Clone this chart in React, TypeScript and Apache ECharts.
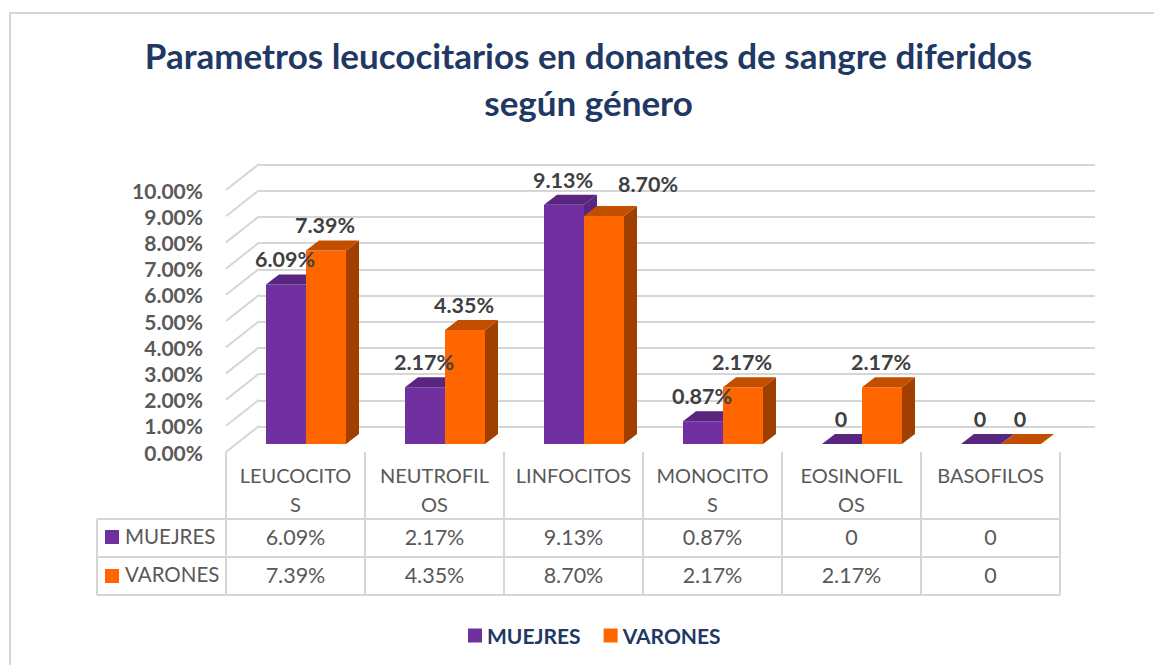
import React, { useEffect, useRef } from "react";
import * as echarts from "echarts";

const titleLines = ["Parametros leucocitarios en donantes de sangre diferidos", "según género"];
const categories = ["LEUCOCITOS", "NEUTROFILOS", "LINFOCITOS", "MONOCITOS", "EOSINOFILOS", "BASOFILOS"];
const categoryLabels = ["LEUCOCITO\nS", "NEUTROFIL\nOS", "LINFOCITOS", "MONOCITO\nS", "EOSINOFIL\nOS", "BASOFILOS"];
const muejres = [6.09, 2.17, 9.13, 0.87, 0, 0];
const varones = [7.39, 4.35, 8.7, 2.17, 2.17, 0];
const ticks = [0, 1, 2, 3, 4, 5, 6, 7, 8, 9, 10];

const FONT = "Lato";
const GRID = "#d6d6d6";
const TEXT = "#595959";
const fmt = (v: number) => (v === 0 ? "0" : v.toFixed(2) + "%");

// layout
const L = 226, R = 1060, T = 190, B = 452;
const COL = (R - L) / 6;
const TX = 97, ROW1 = 519, ROW2 = 557, ROW3 = 595;

function bar3d(seriesIdx: number, front: string, top: string, side: string) {
  return (params: any, api: any) => {
    const cat = api.value(0);
    const val = api.value(1);
    const base = api.coord([cat, 0]);
    const head = api.coord([cat, val]);
    const w = 40, dx = 13, dy = 10, lift = 8;
    const x0 = base[0] - COL / 2 + 40 + seriesIdx * w;
    const x1 = x0 + w;
    const yb = base[1] - lift;
    const yt = head[1] - lift;
    // the reference moved this one label clear of its neighbour
    const moved = seriesIdx === 1 && cat === 2;
    const layer = seriesIdx * 2;
    const children: any[] = [];
    if (val > 0) {
      children.push({ type: "polygon", z2: layer, shape: { points: [[x1, yb], [x1 + dx, yb - dy], [x1 + dx, yt - dy], [x1, yt]] }, style: { fill: side } });
      children.push({ type: "rect", z2: layer, shape: { x: x0, y: yt, width: w, height: yb - yt }, style: { fill: front } });
    }
    children.push({ type: "polygon", z2: layer, shape: { points: [[x0, yt], [x0 + dx, yt - dy], [x1 + dx, yt - dy], [x1, yt]] }, style: { fill: top } });
    children.push({
      type: "text",
      z2: 100,
      style: {
        x: x0 + w / 2 - 1 + (moved ? 45 : 0),
        y: yt - 25 - (moved ? 7 : 0),
        text: fmt(val),
        fill: "#404040",
        font: `bold 21.5px ${FONT}`,
        align: "center",
        verticalAlign: "middle",
      },
    });
    return { type: "group", children };
  };
}

export default function App() {
  const ref = useRef<HTMLDivElement>(null);
  useEffect(() => {
    const chart = echarts.init(ref.current!, undefined, { renderer: "svg" });
    const line = (x1: number, y1: number, x2: number, y2: number) => ({
      type: "line",
      shape: { x1, y1, x2, y2 },
      style: { stroke: GRID, lineWidth: 2 },
      z: 0,
    });
    const cellText = (x: number, y: number, text: string, size: number, align = "center") => ({
      type: "text",
      x,
      y,
      style: { text, fill: TEXT, font: `${size}px ${FONT}`, align, verticalAlign: "middle" },
    });
    const tableEls: any[] = [
      line(10, 13, 1154, 13),
      line(10, 12, 10, 665),
      line(TX, ROW1, R, ROW1),
      line(TX, ROW2, R, ROW2),
      line(TX, ROW3, R, ROW3),
      line(TX, ROW1, TX, ROW3),
    ];
    for (let i = 0; i <= 6; i++) tableEls.push(line(L + i * COL, B, L + i * COL, ROW3));
    categories.forEach((_, i) => {
      const cx = L + COL * (i + 0.5);
      tableEls.push(cellText(cx, (ROW1 + ROW2) / 2 - 1.5, fmt(muejres[i]), 21.5));
      tableEls.push(cellText(cx, (ROW2 + ROW3) / 2 - 1.5, fmt(varones[i]), 21.5));
    });
    tableEls.push({ type: "rect", shape: { x: 105, y: 530, width: 14, height: 14 }, style: { fill: "#7030a0" } });
    tableEls.push({ type: "rect", shape: { x: 105, y: 569, width: 14, height: 14 }, style: { fill: "#ff6600" } });
    tableEls.push(cellText(125, 536, "MUEJRES", 20.5, "left"));
    tableEls.push(cellText(125, 574, "VARONES", 20.5, "left"));

    chart.setOption({
      animation: false,
      backgroundColor: "#ffffff",
      title: {
        text: titleLines.join("\n"),
        left: 583.5,
        top: 26,
        textAlign: "center",
        textStyle: { fontFamily: FONT, fontWeight: "bold", fontSize: 35, color: "#1f3864", lineHeight: 47 },
      },
      legend: {
        data: ["MUEJRES", "VARONES"],
        left: 463,
        top: 620,
        icon: "rect",
        itemWidth: 14,
        itemHeight: 14,
        itemGap: 23,
        textStyle: { fontFamily: FONT, fontWeight: "bold", fontSize: 21, color: "#1f3864" },
      },
      grid: [
        { left: L, width: R - L, top: T, height: B - T },
        { left: 259, width: 836, top: 164.5, height: 262 },
      ],
      xAxis: [
        {
          type: "category",
          gridIndex: 0,
          data: categories,
          axisLine: { show: false },
          axisTick: { show: false },
          axisLabel: {
            margin: 8,
            fontFamily: FONT,
            fontSize: 20,
            color: TEXT,
            lineHeight: 29,
            verticalAlign: "top",
            interval: 0,
            formatter: (_: string, i: number) => categoryLabels[i],
          },
        },
        { type: "category", gridIndex: 1, data: categories, show: false },
      ],
      yAxis: [
        {
          type: "value",
          gridIndex: 0,
          min: 0,
          max: 10,
          interval: 1,
          axisLine: { show: false },
          axisTick: { show: false },
          splitLine: { show: false },
          axisLabel: {
            margin: 23,
            fontFamily: FONT,
            fontSize: 21,
            fontWeight: "bold",
            color: TEXT,
            formatter: (v: number) => v.toFixed(2) + "%",
          },
        },
        {
          type: "value",
          gridIndex: 1,
          min: 0,
          max: 10,
          interval: 1,
          axisLine: { show: false },
          axisTick: { show: false },
          axisLabel: { show: false },
          splitLine: { show: true, lineStyle: { color: GRID, width: 2 } },
        },
      ],
      series: [
        {
          type: "custom",
          name: "walls",
          silent: true,
          xAxisIndex: 0,
          yAxisIndex: 0,
          data: ticks.map((t) => [0, t]),
          encode: { x: 0, y: 1 },
          z: 1,
          renderItem: (params: any, api: any) => {
            const y = api.coord([0, api.value(1)])[1];
            return {
              type: "line",
              shape: { x1: L, y1: y, x2: 259, y2: y - 26 },
              style: { stroke: GRID, lineWidth: 2 },
            };
          },
        },
        {
          type: "custom",
          name: "MUEJRES",
          xAxisIndex: 0,
          yAxisIndex: 0,
          itemStyle: { color: "#7030a0" },
          data: muejres.map((v, i) => [i, v]),
          encode: { x: 0, y: 1 },
          z: 3,
          renderItem: bar3d(0, "#7030a0", "#58257f", "#58257f"),
        },
        {
          type: "custom",
          name: "VARONES",
          xAxisIndex: 0,
          yAxisIndex: 0,
          itemStyle: { color: "#ff6600" },
          data: varones.map((v, i) => [i, v]),
          encode: { x: 0, y: 1 },
          z: 3,
          renderItem: bar3d(1, "#ff6600", "#c24f00", "#a04000"),
        },
      ],
      graphic: { elements: tableEls },
    });
    return () => chart.dispose();
  }, []);
  return <div ref={ref} style={{ position: "absolute", left: 0, top: 0, width: 1154, height: 665 }} />;
}
